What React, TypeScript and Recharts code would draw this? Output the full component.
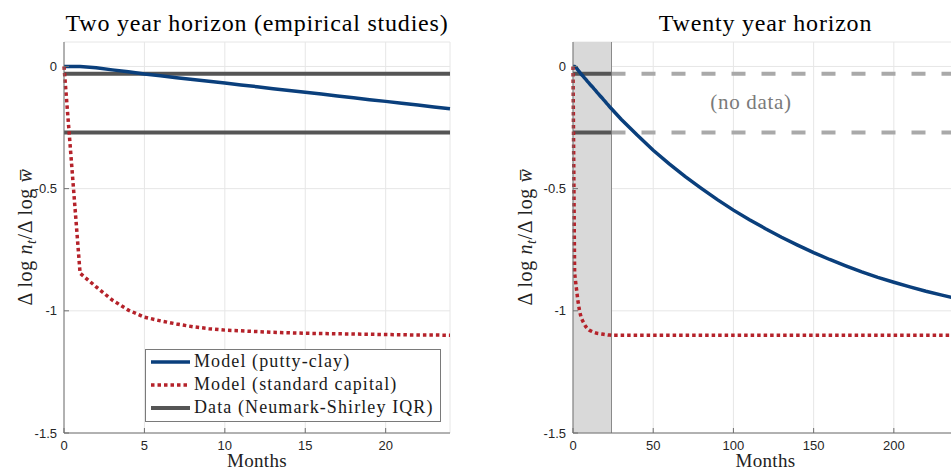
import React from 'react';
import {
  LineChart,
  Line,
  XAxis,
  YAxis,
  CartesianGrid,
  ReferenceArea,
  ReferenceLine,
  ReferenceDot,
  Legend,
  Customized,
} from 'recharts';

// ---------------- data ----------------
const monthsShort = [0, 1, 2, 3, 4, 5, 6, 7, 8, 9, 10, 11, 12, 13, 14, 15, 16, 17, 18, 19, 20, 21, 22, 23, 24];
const puttyClayShort = [0, 0, -0.005, -0.014, -0.022, -0.031, -0.038, -0.046, -0.053, -0.061, -0.068, -0.076, -0.083, -0.091, -0.098, -0.106, -0.113, -0.121, -0.128, -0.136, -0.143, -0.151, -0.158, -0.166, -0.173];
const standardCapitalShort = [0, -0.846, -0.902, -0.956, -0.997, -1.026, -1.041, -1.054, -1.065, -1.073, -1.079, -1.082, -1.085, -1.088, -1.09, -1.092, -1.093, -1.094, -1.095, -1.096, -1.097, -1.098, -1.099, -1.099, -1.1];
const monthsLong = [30, 40, 50, 60, 70, 80, 90, 100, 110, 120, 130, 140, 150, 160, 170, 180, 190, 200, 210, 220, 230, 240];
const puttyClayLong = [-0.216, -0.281, -0.343, -0.399, -0.451, -0.499, -0.545, -0.588, -0.627, -0.664, -0.699, -0.731, -0.762, -0.79, -0.816, -0.841, -0.863, -0.883, -0.902, -0.92, -0.936, -0.951];
const standardCapitalLong = [-1.1, -1.1, -1.1, -1.1, -1.1, -1.1, -1.1, -1.1, -1.1, -1.1, -1.1, -1.1, -1.1, -1.1, -1.1, -1.1, -1.1, -1.1, -1.1, -1.1, -1.1, -1.1];
const iqrLow = -0.27;
const iqrHigh = -0.03;
const dataHorizon = 24;

const xTicksShort = [0, 5, 10, 15, 20];
const xTicksLong = [0, 50, 100, 150, 200];
const yTicks = [0, -0.5, -1, -1.5];

const titles = ['Two year horizon (empirical studies)', 'Twenty year horizon'];
const xLabel = 'Months';
const noDataText = '(no data)';

// ---------------- styles ----------------
const SERIF = '"Liberation Serif", "Times New Roman", serif';
const SANS = '"Liberation Sans", Arial, Helvetica, sans-serif';
const BLUE = '#0a3f7c';
const RED = '#b5222a';
const DARK = '#555555';
const LIGHT = '#a9a9a9';
const AXIS = '#707070';
const GRID = '#e6e6e6';

const legendItems = [
  { label: 'Model (putty-clay)', color: BLUE, dash: undefined as string | undefined, width: 3.5 },
  { label: 'Model (standard capital)', color: RED, dash: '3.5 3', width: 3.5 },
  { label: 'Data (Neumark-Shirley IQR)', color: DARK, dash: undefined as string | undefined, width: 4 },
];

// ---------------- tables ----------------
const leftData = monthsShort.map((m, i) => ({
  month: m,
  putty: puttyClayShort[i],
  standard: standardCapitalShort[i],
  iqrLo: iqrLow,
  iqrHi: iqrHigh,
}));

const rightData = [
  ...monthsShort.map((m, i) => ({
    month: m,
    putty: puttyClayShort[i],
    standard: standardCapitalShort[i],
    obsLo: iqrLow,
    obsHi: iqrHigh,
    extLo: m >= dataHorizon ? iqrLow : undefined,
    extHi: m >= dataHorizon ? iqrHigh : undefined,
  })),
  ...monthsLong.map((m, i) => ({
    month: m,
    putty: puttyClayLong[i],
    standard: standardCapitalLong[i],
    obsLo: undefined,
    obsHi: undefined,
    extLo: iqrLow,
    extHi: iqrHigh,
  })),
];

const yFmt = (v: number) => (v === 0 ? '0' : String(v));

const tickStyle = { fontFamily: SANS, fontSize: 13, fill: '#262626' };

const ChartText = ({ title, cx, ylx }: { title: string; cx: number; ylx: number }) => (
  <g>
    <text x={cx} y={31} textAnchor="middle" fontFamily={SERIF} fontSize={24} letterSpacing={0.8} fill="#000">
      {title}
    </text>
    <text x={cx} y={467} textAnchor="middle" fontFamily={SERIF} fontSize={19} letterSpacing={0.3} fill="#222">
      {xLabel}
    </text>
    <text
      x={ylx}
      y={237}
      transform={`rotate(-90 ${ylx} 237)`}
      textAnchor="middle"
      fontFamily={SERIF}
      fontSize={20}
      letterSpacing={0.6}
      fill="#222"
    >
      <tspan>Δ log </tspan>
      <tspan fontStyle="italic">n</tspan>
      <tspan dy={4} fontSize={14} fontStyle="italic">t</tspan>
      <tspan dy={-4}>/Δ log </tspan>
      <tspan fontStyle="italic">{'w\u0305'}</tspan>
    </text>
  </g>
);

const NoDataLabel = (props: any) => {
  const vb = props.viewBox || {};
  const x = (vb.x || 0) + (vb.width || 0) / 2;
  const y = (vb.y || 0) + (vb.height || 0) / 2;
  return (
    <text
      x={x}
      y={y + 7}
      textAnchor="middle"
      fontFamily={SERIF}
      style={{ fontFamily: SERIF }}
      fontSize={21}
      letterSpacing={0.7}
      fill="#7a7a7a"
    >
      {noDataText}
    </text>
  );
};

const LegendBox = () => (
  <div
    style={{
      border: '1px solid #7a7a7a',
      background: '#fff',
      padding: '0 4px 1px 5px',
      boxSizing: 'border-box',
      width: 296,
      height: 73,
    }}
  >
    {legendItems.map((it) => (
      <div key={it.label} style={{ display: 'flex', alignItems: 'center', height: 23 }}>
        <svg width={39} height={10} style={{ flex: 'none' }}>
          <line x1={0} y1={5} x2={39} y2={5} stroke={it.color} strokeWidth={it.width} strokeDasharray={it.dash} />
        </svg>
        <span
          style={{
            marginLeft: 4,
            fontFamily: SERIF,
            fontSize: 18,
            letterSpacing: 1.1,
            color: '#1a1a1a',
            whiteSpace: 'nowrap',
            lineHeight: '23px',
          }}
        >
          {it.label}
        </span>
      </div>
    ))}
  </div>
);

export default function App() {
  return (
    <div style={{ position: 'absolute', left: 0, top: 0, width: 951, height: 472, overflow: 'hidden', background: '#fff' }}>
      <div style={{ position: 'absolute', left: 0, top: 0 }}>
        <LineChart width={475} height={472} data={leftData} margin={{ top: 42, right: 25, bottom: 9, left: 24 }}>
          <CartesianGrid stroke={GRID} strokeWidth={1} />
          <XAxis
            dataKey="month"
            type="number"
            domain={[0, 24]}
            ticks={xTicksShort}
            height={30}
            stroke={AXIS}
            tickSize={-5}
            tickMargin={13}
            tick={tickStyle}
            allowDecimals={false}
          />
          <YAxis
            type="number"
            domain={[-1.5, 0.1]}
            ticks={yTicks}
            width={40}
            stroke={AXIS}
            tickSize={-5}
            tickMargin={12}
            tick={tickStyle}
            tickFormatter={yFmt}
            allowDataOverflow
          />
          <Line dataKey="iqrHi" stroke={DARK} strokeWidth={4} dot={false} isAnimationActive={false} legendType="none" />
          <Line dataKey="iqrLo" stroke={DARK} strokeWidth={4} dot={false} isAnimationActive={false} legendType="none" />
          <Line dataKey="putty" stroke={BLUE} strokeWidth={3.5} dot={false} isAnimationActive={false} />
          <Line dataKey="standard" stroke={RED} strokeWidth={3.5} strokeDasharray="3.5 3" dot={false} isAnimationActive={false} />
          <Legend
            layout="vertical"
            align="center"
            verticalAlign="middle"
            content={() => <LegendBox />}
            wrapperStyle={{ position: 'absolute', left: 145, top: 349, width: 296, height: 73 }}
          />
          <Customized component={<ChartText title={titles[0]} cx={257} ylx={32} />} />
        </LineChart>
      </div>
      <div style={{ position: 'absolute', left: 475, top: 0 }}>
        <LineChart width={500} height={472} data={rightData} margin={{ top: 42, right: 17, bottom: 9, left: 58 }}>
          <CartesianGrid stroke={GRID} strokeWidth={1} />
          <ReferenceArea x1={0} x2={dataHorizon} fill="#d9d9d9" fillOpacity={1} stroke="none" />
          <ReferenceLine x={dataHorizon} stroke="#8a8a8a" strokeWidth={1} />
          <XAxis
            dataKey="month"
            type="number"
            domain={[0, 240]}
            ticks={xTicksLong}
            height={30}
            stroke={AXIS}
            tickSize={-5}
            tickMargin={13}
            tick={tickStyle}
          />
          <YAxis
            type="number"
            domain={[-1.5, 0.1]}
            ticks={yTicks}
            width={40}
            stroke={AXIS}
            tickSize={-5}
            tickMargin={12}
            tick={tickStyle}
            tickFormatter={yFmt}
            allowDataOverflow
          />
          <Line dataKey="extHi" stroke={LIGHT} strokeWidth={4} strokeDasharray="14 16" dot={false} isAnimationActive={false} connectNulls={false} />
          <Line dataKey="extLo" stroke={LIGHT} strokeWidth={4} strokeDasharray="14 16" dot={false} isAnimationActive={false} connectNulls={false} />
          <Line dataKey="obsHi" stroke={DARK} strokeWidth={4} dot={false} isAnimationActive={false} connectNulls={false} />
          <Line dataKey="obsLo" stroke={DARK} strokeWidth={4} dot={false} isAnimationActive={false} connectNulls={false} />
          <Line dataKey="putty" stroke={BLUE} strokeWidth={3.5} dot={false} isAnimationActive={false} />
          <Line dataKey="standard" stroke={RED} strokeWidth={3.5} strokeDasharray="3.5 3" dot={false} isAnimationActive={false} />
          <ReferenceDot x={111} y={-0.147} r={0} fill="none" stroke="none" label={<NoDataLabel />} />
          <Customized component={<ChartText title={titles[1]} cx={290.5} ylx={57} />} />
        </LineChart>
      </div>
    </div>
  );
}
